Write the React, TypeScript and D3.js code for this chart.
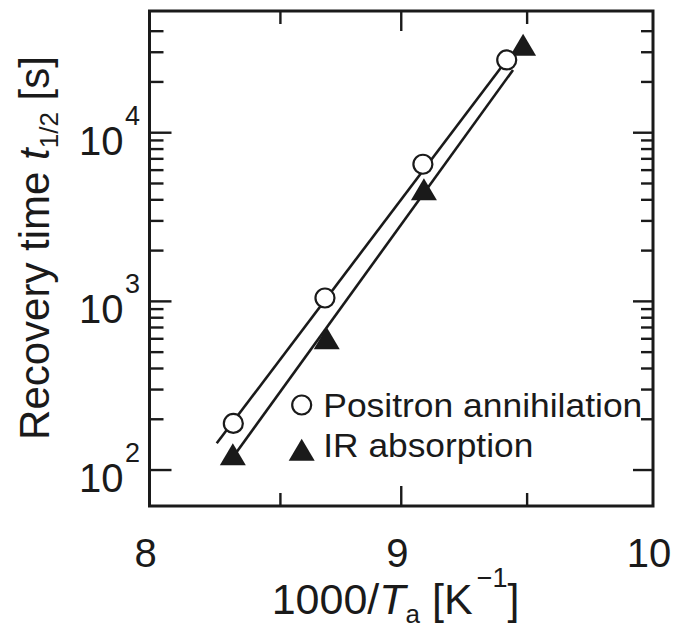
import React from "react";
import * as d3 from "d3";

// ---- data ----
const positronX = [8.333, 8.697, 9.086, 9.419];
const positronY = [189, 1047, 6500, 27000];
const irX = [8.331, 8.704, 9.09, 9.484];
const irY = [118, 574, 4390, 31600];
const positronFitX = [8.267, 9.419];
const positronFitY = [144, 27000];
const irFitX = [8.347, 9.444];
const irFitY = [128.5, 23550];
const xMajorTicks = [8, 9, 10];
const xMinorTicks = [8.52, 9.5];
const yMajorTicks = [100, 1000, 10000];
const yMajorExp = ["2", "3", "4"];
const yMinorTicks = [200, 300, 400, 500, 600, 700, 800, 900, 2000, 3000, 4000, 5000, 6000, 7000, 8000, 9000, 20000, 30000, 40000];
const legendLabels = ["Positron annihilation", "IR absorption"];

const W = 675, H = 631;
const L = 149.5, R = 653, T = 11, B = 506;
const FONT = "'Liberation Sans', Arial, Helvetica, sans-serif";

const x = d3.scaleLinear().domain([8, 10]).range([L, R]);
const y = d3.scaleLog().domain([61.2, 52680]).range([B, T]);

const triPath = (cx: number, cy: number) => {
  const w = 26, h = 22;
  return `M${cx},${cy - (2 / 3) * h}L${cx + w / 2},${cy + h / 3}L${cx - w / 2},${cy + h / 3}Z`;
};

export default function App() {
  const line = d3.line<[number, number]>().x((d) => x(d[0])).y((d) => y(d[1]));
  const pFit: [number, number][] = positronFitX.map((v, i) => [v, positronFitY[i]]);
  const iFit: [number, number][] = irFitX.map((v, i) => [v, irFitY[i]]);
  return (
    <svg width={W} height={H} style={{ position: "absolute", left: 0, top: 0, background: "#fff" }} fontFamily={FONT}>
      <rect x={0} y={0} width={W} height={H} fill="#fff" />
      {/* fit lines */}
      <path d={line(pFit) || ""} fill="none" stroke="#1a1a1a" strokeWidth={2.6} />
      <path d={line(iFit) || ""} fill="none" stroke="#1a1a1a" strokeWidth={2.6} />
      {/* IR markers */}
      {irX.map((v, i) => (
        <path key={"t" + i} d={triPath(x(v), y(irY[i]))} fill="#1a1a1a" />
      ))}
      {/* positron markers */}
      {positronX.map((v, i) => (
        <circle key={"c" + i} cx={x(v)} cy={y(positronY[i])} r={9.5} fill="#fff" stroke="#1a1a1a" strokeWidth={2.2} />
      ))}
      {/* ticks */}
      <g stroke="#1a1a1a" strokeWidth={2.4}>
        {yMajorTicks.map((v) => (
          <g key={"ym" + v}>
            <line x1={L} x2={L + 22} y1={y(v)} y2={y(v)} />
            <line x1={R} x2={R - 20} y1={y(v)} y2={y(v)} />
          </g>
        ))}
        {yMinorTicks.map((v) => (
          <g key={"yn" + v}>
            <line x1={L} x2={L + 14} y1={y(v)} y2={y(v)} />
            <line x1={R} x2={R - 12} y1={y(v)} y2={y(v)} />
          </g>
        ))}
        {xMajorTicks.slice(1, -1).map((v) => (
          <g key={"xm" + v}>
            <line x1={x(v)} x2={x(v)} y1={B} y2={B - 20} />
            <line x1={x(v)} x2={x(v)} y1={T} y2={T + 20} />
          </g>
        ))}
        {xMinorTicks.map((v) => (
          <g key={"xn" + v}>
            <line x1={x(v)} x2={x(v)} y1={B} y2={B - 13} />
            <line x1={x(v)} x2={x(v)} y1={T} y2={T + 13} />
          </g>
        ))}
      </g>
      {/* frame */}
      <rect x={L} y={T} width={R - L} height={B - T} fill="none" stroke="#1a1a1a" strokeWidth={3} />
      {/* x tick labels */}
      {xMajorTicks.map((v) => (
        <text key={"xl" + v} x={x(v) - 4} y={567} fontSize={40} textAnchor="middle" fill="#1a1a1a">
          {v}
        </text>
      ))}
      {/* y tick labels */}
      {yMajorTicks.map((v, i) => (
        <text key={"yl" + v} x={79} y={y(v) + 22} fontSize={40} fill="#1a1a1a">
          10
          <tspan dx={1.5} dy={-30} fontSize={27}>{yMajorExp[i]}</tspan>
        </text>
      ))}
      {/* x title */}
      <text x={271.7} y={614} fontSize={43} fill="#1a1a1a">
        1000/
        <tspan fontStyle="italic">T</tspan>
        <tspan dy={9} fontSize={26}>a</tspan>
        <tspan dy={-9} dx={12}>[K</tspan>
        <tspan dy={-27} dx={4} fontSize={27}>−1</tspan>
        <tspan dy={27} dx={0}>]</tspan>
      </text>
      {/* y title */}
      <text transform={`translate(49,248) rotate(-90)`} textAnchor="middle" fontSize={42} fill="#1a1a1a">
        Recovery time <tspan fontStyle="italic">t</tspan>
        <tspan dy={9} fontSize={26}>1/2</tspan>
        <tspan dy={-9}> [s]</tspan>
      </text>
      {/* legend */}
      <circle cx={301.7} cy={405} r={9.5} fill="#fff" stroke="#1a1a1a" strokeWidth={2.2} />
      <text x={323.3} y={416.7} fontSize={34} fill="#1a1a1a" textLength={319} lengthAdjust="spacingAndGlyphs">{legendLabels[0]}</text>
      <path d={triPath(301.7, 453.3)} fill="#1a1a1a" />
      <text x={323.3} y={456.7} fontSize={34} fill="#1a1a1a" textLength={210} lengthAdjust="spacingAndGlyphs">{legendLabels[1]}</text>
    </svg>
  );
}
